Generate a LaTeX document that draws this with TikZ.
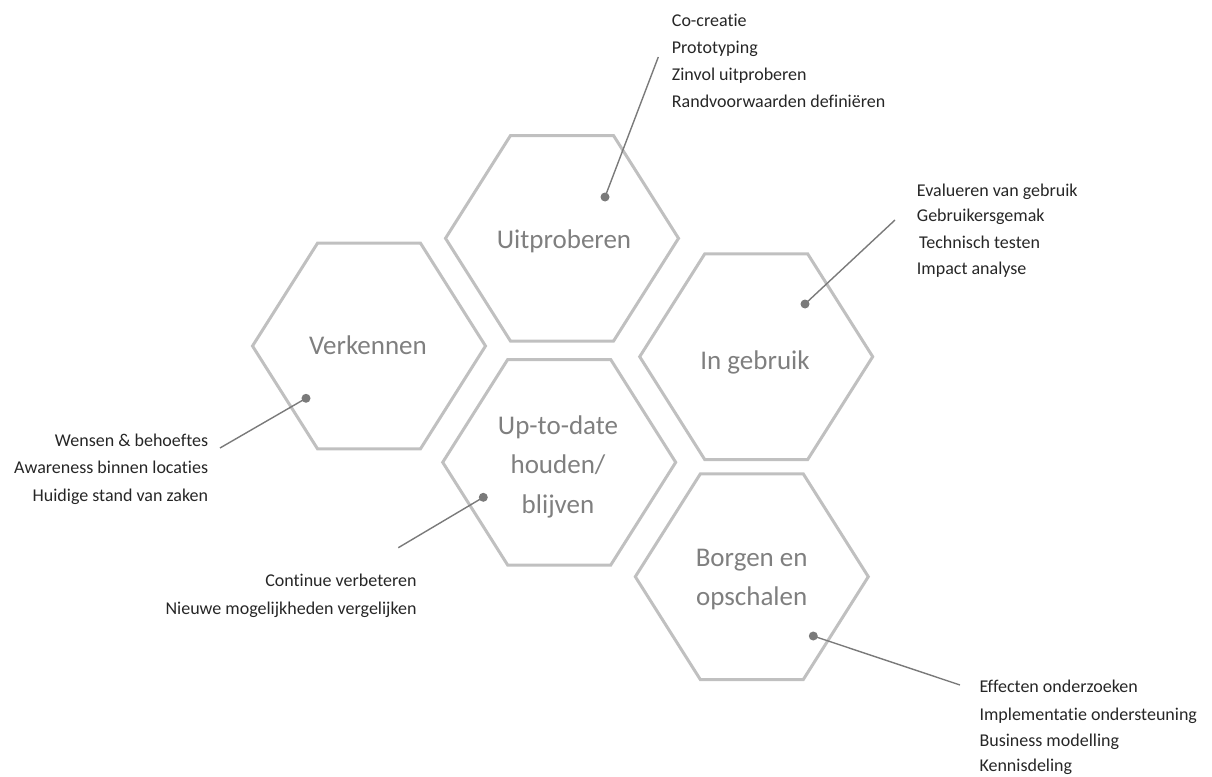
\documentclass[tikz,border=0pt]{standalone}
\usepackage{fontspec}
\setmainfont{Carlito}[Ligatures={NoCommon}]
\definecolor{hexline}{HTML}{C0C0C0}
\definecolor{hexlabel}{HTML}{7F7F7F}
\definecolor{dotgray}{HTML}{7A7A7A}
\definecolor{sidetext}{HTML}{262626}
\newcommand\drawhexa[1]{%
  \draw[hexa] ([shift={(-116.5,0)}]#1) -- ([shift={(-51.5,-102.8)}]#1) -- ([shift={(51.5,-102.8)}]#1)
    -- ([shift={(116.5,0)}]#1) -- ([shift={(51.5,102.8)}]#1) -- ([shift={(-51.5,102.8)}]#1) -- cycle;}
\begin{document}
\begin{tikzpicture}[x=1pt,y=-1pt,
  hexa/.style={draw=hexline, line width=3pt, line join=miter},
  hexlab/.style={text=hexlabel, font=\fontsize{27}{32}\selectfont, inner sep=0pt, anchor=base},
  sidel/.style={text=sidetext, font=\fontsize{18}{22}\selectfont, inner sep=0pt, anchor=base west},
  sider/.style={text=sidetext, font=\fontsize{18}{22}\selectfont, inner sep=0pt, anchor=base east},
  dot/.style={circle, fill=dotgray, inner sep=0pt, minimum size=9pt},
  lead/.style={draw=dotgray, line width=1.4pt}]
\useasboundingbox (0,0) rectangle (1212,776);

% hexagon centres
\coordinate (cV) at (369,346);
\coordinate (cU) at (562,238.3);
\coordinate (cD) at (559.2,462.3);
\coordinate (cI) at (756.2,356.7);
\coordinate (cB) at (751.8,576.7);

\drawhexa{cV}
\drawhexa{cU}
\drawhexa{cD}
\drawhexa{cI}
\drawhexa{cB}

% hexagon labels
\node[hexlab] (lV) at (368,354) {Verkennen};
\node[hexlab] (lU) at (564,248.3) {Uitproberen};
\node[hexlab] (lI) at (755,369.3) {In gebruik};
\node[hexlab] (lD1) at (558,434) {Up-to-date};
\node[hexlab] (lD2) at (558,473.3) {houden/};
\node[hexlab] (lD3) at (558,513.3) {blijven};
\node[hexlab] (lB1) at (751.7,566) {Borgen en};
\node[hexlab] (lB2) at (751.7,605) {opschalen};

% dots and leaders
\node[dot] (dU) at (605,197) {};
\node[dot] (dI) at (805,304) {};
\node[dot] (dV) at (306,398.3) {};
\node[dot] (dD) at (483.3,497.3) {};
\node[dot] (dB) at (813.3,636) {};
\coordinate (eU) at (658.3,57);
\coordinate (eI) at (895,220);
\coordinate (eV) at (220,448);
\coordinate (eD) at (398.3,547.7);
\coordinate (eB) at (960,685);
\draw[lead] (dU.center) -- (eU);
\draw[lead] (dI.center) -- (eI);
\draw[lead] (dV.center) -- (eV);
\draw[lead] (dD.center) -- (eD);
\draw[lead] (dB.center) -- (eB);

% side texts
\node[sidel] (tU1) at (671.7,26.7) {Co-creatie};
\node[sidel] (tU2) at (671.7,53.3) {Prototyping};
\node[sidel] (tU3) at (671.7,80.5) {Zinvol uitproberen};
\node[sidel] (tU4) at (671.7,107.5) {Randvoorwaarden definiëren};

\node[sidel] (tI1) at (916.7,196) {Evalueren van gebruik};
\node[sidel] (tI2) at (916.7,221.7) {Gebruikersgemak};
\node[sidel] (tI3) at (919,248.3) {Technisch testen};
\node[sidel] (tI4) at (916.7,274.3) {Impact analyse};

\node[sider] (tV1) at (208.3,446) {Wensen \& behoeftes};
\node[sider] (tV2) at (208.3,473.3) {Awareness binnen locaties};
\node[sider] (tV3) at (208.3,501) {Huidige stand van zaken};

\node[sider] (tD1) at (416.7,586.7) {Continue verbeteren};
\node[sider] (tD2) at (416.7,614.3) {Nieuwe mogelijkheden vergelijken};

\node[sidel] (tB1) at (979.3,692.7) {Effecten onderzoeken};
\node[sidel] (tB2) at (979.3,720) {Implementatie ondersteuning};
\node[sidel] (tB3) at (979.3,746.5) {Business modelling};
\node[sidel] (tB4) at (979.3,771) {Kennisdeling};
\end{tikzpicture}
\end{document}
